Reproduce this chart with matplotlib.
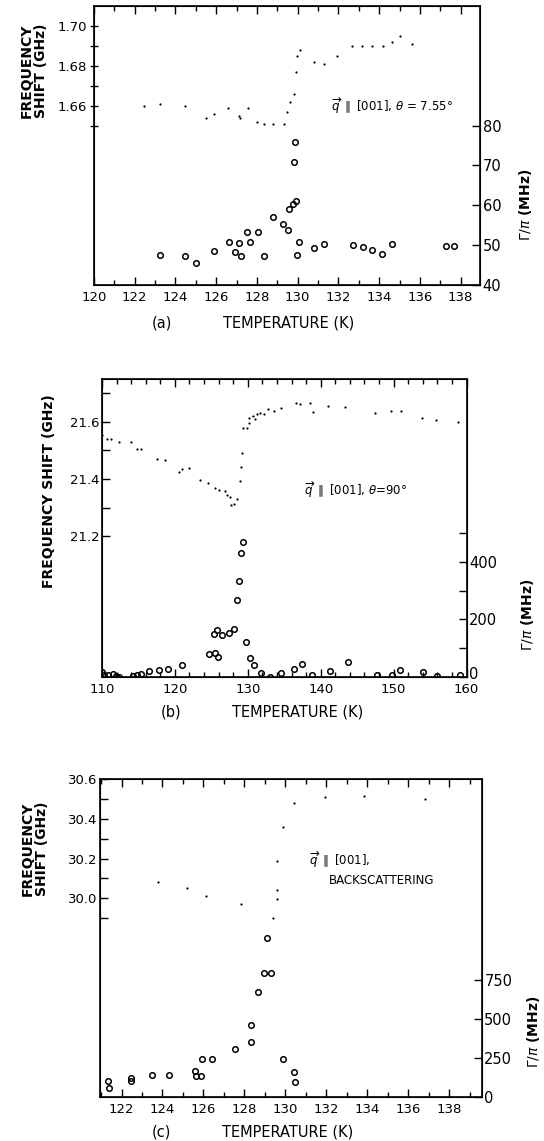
import matplotlib.pyplot as plt
from matplotlib.ticker import MultipleLocator, FixedLocator
from matplotlib.transforms import ScaledTranslation

plt.rcParams["font.family"] = ["DejaVu Sans"]
plt.rcParams["mathtext.fontset"] = "dejavusans"

# ── panel (a): q || [001], theta = 7.55 deg ─────────────────────────────────
a_freq_T = [122.47, 123.23, 124.46, 125.48, 125.87, 126.6, 127.1, 127.18, 127.55,
            127.99, 128.33, 128.8, 129.32, 129.49, 129.6, 129.83, 129.9, 129.95,
            130.1, 130.8, 131.31, 131.94, 132.67, 133.18, 133.66, 134.17, 134.63,
            135.0, 135.6]
a_freq = [1.660, 1.661, 1.660, 1.654, 1.656, 1.659, 1.655, 1.654, 1.659,
          1.652, 1.651, 1.651, 1.651, 1.657, 1.662, 1.666, 1.677, 1.685,
          1.688, 1.682, 1.681, 1.685, 1.690, 1.690, 1.690, 1.690, 1.692,
          1.695, 1.691]
a_gam_T = [123.23, 124.46, 125.02, 125.9, 126.63, 126.92, 127.14, 127.23, 127.53,
           127.65, 128.06, 128.37, 128.81, 129.27, 129.52, 129.57, 129.78, 129.9,
           129.83, 129.86, 129.98, 130.08, 130.8, 131.28, 132.72, 133.21, 133.66,
           134.15, 134.63, 137.26, 137.69]
a_gam = [47.5, 47.3, 45.4, 48.6, 50.7, 48.2, 50.5, 47.4, 53.2,
         50.7, 53.2, 47.3, 57.0, 55.2, 53.8, 59.0, 60.3, 61.1,
         70.9, 75.8, 47.5, 50.7, 49.2, 50.3, 50.0, 49.5, 48.8,
         47.7, 50.2, 49.9, 49.8]

# ── panel (b): q || [001], theta = 90 deg ───────────────────────────────────
b_freq_T = [110.0, 110.7, 111.3, 112.3, 114.0, 114.8, 115.4, 117.5, 118.7, 120.5,
            121.0, 122.0, 123.4, 124.5, 125.5, 126.0, 126.9, 127.2, 127.5, 127.7,
            128.1, 128.5, 128.9, 129.0, 129.2, 129.4, 129.9, 130.1, 130.2, 130.7,
            131.0, 131.2, 131.7, 132.2, 132.8, 133.6, 134.5, 136.6, 137.2, 138.6,
            139.0, 141.0, 143.4, 147.4, 149.7, 151.0, 153.9, 155.8, 158.9]
b_freq = [21.554, 21.539, 21.539, 21.530, 21.530, 21.504, 21.504, 21.470, 21.467, 21.424,
          21.435, 21.440, 21.397, 21.386, 21.368, 21.362, 21.357, 21.345, 21.339, 21.308,
          21.314, 21.330, 21.394, 21.443, 21.492, 21.577, 21.577, 21.594, 21.614, 21.620,
          21.608, 21.627, 21.631, 21.626, 21.643, 21.638, 21.646, 21.664, 21.661, 21.664,
          21.632, 21.654, 21.649, 21.631, 21.637, 21.637, 21.614, 21.606, 21.598]
b_gam_T = [110.0, 110.3, 110.8, 111.5, 111.9, 112.4, 114.2, 114.8, 115.4, 116.4,
           117.8, 119.0, 121.0, 124.7, 125.5, 125.9, 125.3, 125.8, 126.5, 127.4,
           128.1, 128.5, 128.8, 129.0, 129.3, 129.7, 130.3, 130.9, 131.8, 133.1,
           134.5, 136.4, 137.4, 138.8, 141.3, 143.7, 147.7, 149.8, 150.9, 154.1,
           155.9, 159.1]
b_gam = [16, 8, 8, 12, 5, 0, 5, 7, 12, 20,
         25, 28, 43, 80, 83, 69, 150, 162, 145, 153,
         166, 268, 335, 432, 470, 120, 66, 43, 14, 0,
         14, 28, 46, 8, 22, 51, 8, 8, 23, 17,
         5, 8]

# ── panel (c): q || [001], backscattering ───────────────────────────────────
c_freq_T = [123.78, 125.22, 126.1, 127.81, 129.4, 129.59, 129.59, 129.59, 129.87,
            130.43, 131.91, 133.85, 136.82]
c_freq = [30.082, 30.052, 30.013, 29.973, 29.901, 29.998, 30.043, 30.188, 30.359,
          30.479, 30.509, 30.513, 30.501]
c_gam_T = [121.36, 121.41, 122.46, 122.46, 123.49, 124.34, 125.59, 125.64, 125.89,
           125.93, 126.44, 127.54, 128.3, 128.3, 128.65, 128.94, 129.28, 129.1,
           129.87, 130.43, 130.48]
c_gam = [100, 57, 121, 104, 139, 139, 168, 136, 136,
         243, 243, 307, 350, 460, 671, 791, 791, 1017,
         243, 162, 94]

W, H = 544, 1141
fig = plt.figure(figsize=(W / 100, H / 100), dpi=100)


def box(left, top, right, bottom):
    return [left / W, 1 - bottom / H, (right - left) / W, (bottom - top) / H]


def panel(rect, xlim, xmaj, xmin, ylim, yticks, yminor, ylab_fmt,
          rlim, rticks, rminor, fT, f, gT, g, left_dir="in"):
    ax = fig.add_axes(rect)
    ax.plot(fT, f, ".", color="black", ms=3.2, mew=0)
    ax.set_xlim(*xlim)
    ax.set_ylim(*ylim)
    ax.xaxis.set_major_locator(MultipleLocator(xmaj))
    ax.xaxis.set_minor_locator(MultipleLocator(xmin))
    ax.yaxis.set_major_locator(FixedLocator(yticks))
    ax.yaxis.set_minor_locator(FixedLocator(yminor))
    ax.set_yticklabels([ylab_fmt.format(v) for v in yticks])
    ax.tick_params(axis="x", which="both", direction="in", top=True, labelsize=9.5, pad=4)
    ax.tick_params(axis="x", which="major", length=6, width=1)
    ax.tick_params(axis="x", which="minor", length=3.5, width=1)
    ax.tick_params(axis="y", which="both", direction=left_dir, length=6, width=1,
                   labelsize=9.5, pad=2)
    for s in ax.spines.values():
        s.set_linewidth(1.2)

    rx = ax.twinx()
    rx.plot(gT, g, "o", mfc="none", mec="black", ms=4, mew=1.1)
    rx.set_ylim(*rlim)
    rx.yaxis.set_major_locator(FixedLocator(rticks))
    rx.yaxis.set_minor_locator(FixedLocator(rminor))
    rx.tick_params(axis="y", which="both", direction="in", length=6, width=1,
                   labelsize=10.5, pad=2)
    return ax, rx


# (a)
ax_a, _ = panel(box(94, 6, 480, 285), (120, 138.95), 2, 1,
                (1.57, 1.71), [1.66, 1.68, 1.70], [1.65, 1.67, 1.69], "{:.2f}",
                (40, 110), [40, 50, 60, 70, 80], [],
                a_freq_T, a_freq, a_gam_T, a_gam, left_dir="inout")
ax_a.text(0.615, 0.642, r"$\overrightarrow{q}$ $\parallel$ [001], $\theta$ = 7.55°",
          transform=ax_a.transAxes, fontsize=8.5, va="center", ha="left")

# (b)
ax_b, rx_b = panel(box(102, 379, 466.5, 677), (110, 160), 10, 2,
                   (20.711, 21.748), [21.2, 21.4, 21.6], [21.3, 21.5, 21.7], "{:.1f}",
                   (0, 1035), [0, 200, 400], [100, 300, 500],
                   b_freq_T, b_freq, b_gam_T, b_gam)
ax_b.text(0.554, 0.628, r"$\overrightarrow{q}$ $\parallel$ [001], $\theta$=90°",
          transform=ax_b.transAxes, fontsize=8.5, va="center", ha="left")
zero = rx_b.get_yticklabels()[0]
zero.set_transform(zero.get_transform() + ScaledTranslation(0, 3 / 72, fig.dpi_scale_trans))

# (c)
ax_c, _ = panel(box(100, 779, 481.5, 1097), (120.95, 139.57), 2, 1,
                (29.0, 30.6), [30.0, 30.2, 30.4, 30.6], [29.9, 30.1, 30.3, 30.5], "{:.1f}",
                (0, 2035), [0, 250, 500, 750], [],
                c_freq_T, c_freq, c_gam_T, c_gam)
ax_c.text(0.548, 0.745, r"$\overrightarrow{q}$ $\parallel$ [001],",
          transform=ax_c.transAxes, fontsize=8.5, va="center", ha="left")
ax_c.text(0.60, 0.682, "BACKSCATTERING",
          transform=ax_c.transAxes, fontsize=8.5, va="center", ha="left")


# axis titles placed in figure pixels
def ftext(x, y, s, **kw):
    fig.text(x / W, 1 - y / H, s, ha="center", va="center", **kw)


lab = dict(fontsize=10, fontweight="bold")
ftext(34, 71, "FREQUENCY\nSHIFT (GHz)", rotation=90, multialignment="center",
      linespacing=1.0, **lab)
ftext(49, 491, "FREQUENCY SHIFT (GHz)", rotation=90, **lab)
ftext(35, 849, "FREQUENCY\nSHIFT (GHz)", rotation=90, multialignment="center",
      linespacing=1.0, **lab)

for x, y in ((526, 205), (528, 615), (534, 1032)):
    ftext(x, y, r"$\Gamma/\pi$ (MHz)", rotation=90, **lab)

for x, y, tag in ((162, 323, "(a)"), (171, 712, "(b)"), (161, 1132, "(c)")):
    ftext(x, y, tag, fontsize=10.5)
    ftext(x + 127, y, "TEMPERATURE (K)", fontsize=10.5)

fig.savefig("out.png", dpi=100)
